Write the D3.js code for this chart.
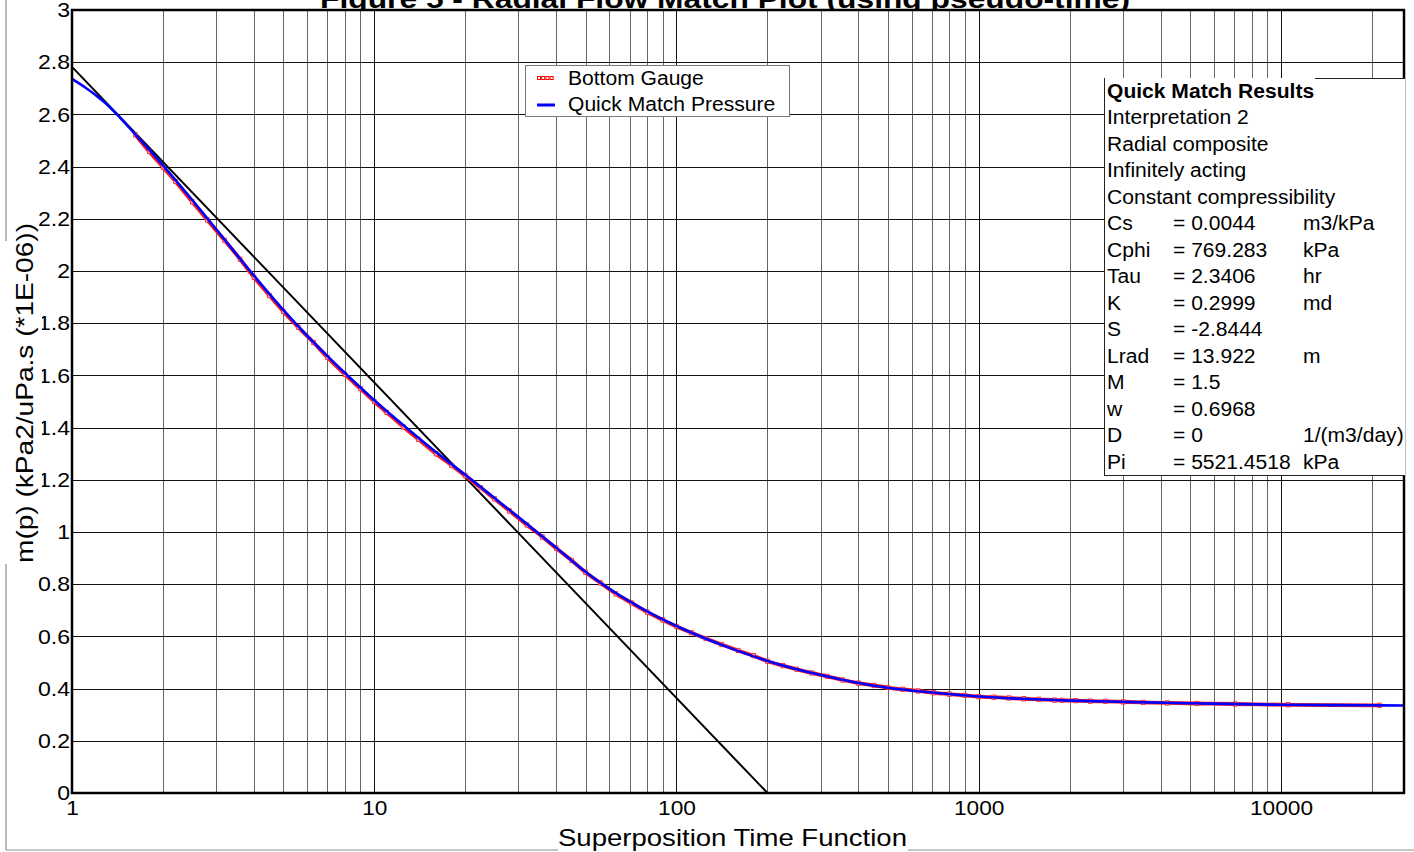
<!DOCTYPE html>
<html><head><meta charset="utf-8">
<script src="https://cdn.jsdelivr.net/npm/d3@7"></script>
<style>
body{margin:0;background:#fff;}
svg{display:block;}
text{font-family:"Liberation Sans",Arial,Helvetica,sans-serif;fill:#000;}
</style>
</head><body>
<svg id="chart" width="1414" height="852"></svg>
<script>
// ---------------- data ----------------
const titleText = "Figure 5 - Radial Flow Match Plot (using pseudo-time)";
const xTitle = "Superposition Time Function";
const yTitle = "m(p) (kPa2/uPa.s (*1E-06))";

const xTicks = [1, 10, 100, 1000, 10000];
const xTickLabels = ["1", "10", "100", "1000", "10000"];
const yTicks = [0, 0.2, 0.4, 0.6, 0.8, 1, 1.2, 1.4, 1.6, 1.8, 2, 2.2, 2.4, 2.6, 2.8, 3];
const yTickLabels = ["0","0.2","0.4","0.6","0.8","1","1.2","1.4","1.6","1.8","2","2.2","2.4","2.6","2.8","3"];

// Quick Match Pressure (blue line)
const matchX = [1, 1.1, 1.2, 1.3, 1.4, 1.6, 2, 2.5, 3, 4, 5, 6, 7, 8, 10, 12, 15, 20, 25, 30, 40, 50, 60, 70, 80, 100, 150, 200, 300, 500, 700, 1000, 2000, 3000, 5000, 10000, 20000, 25500];
const matchY = [2.736, 2.705, 2.673, 2.640, 2.603, 2.530, 2.405, 2.272, 2.160, 1.982, 1.851, 1.752, 1.674, 1.609, 1.505, 1.426, 1.332, 1.219, 1.130, 1.057, 0.940, 0.848, 0.782, 0.734, 0.696, 0.640, 0.556, 0.506, 0.452, 0.403, 0.385, 0.370, 0.354, 0.349, 0.344, 0.338, 0.336, 0.335];

// Bottom Gauge (red markers)
const gaugeX = [1.62, 1.8, 2.0, 2.2, 2.5, 2.8, 3.2, 3.6, 4.0, 4.5, 5.0, 5.6, 6.3, 7.0, 8.0, 9.0, 10, 11, 12.5, 14, 16, 18, 20, 22.5, 25, 28, 32, 36, 40, 45, 50, 56, 63, 71, 80, 90, 100, 112, 125, 141, 160, 180, 200, 225, 250, 280, 315, 355, 400, 450, 500, 560, 630, 710, 800, 900, 1000, 1120, 1260, 1410, 1580, 1780, 1890, 2094, 2337, 2625, 3010, 3500, 4208, 5284, 7050, 10570, 21200];
const gaugeY = [2.522, 2.458, 2.398, 2.343, 2.265, 2.196, 2.117, 2.045, 1.976, 1.906, 1.845, 1.785, 1.726, 1.669, 1.604, 1.549, 1.500, 1.458, 1.402, 1.355, 1.300, 1.256, 1.216, 1.170, 1.127, 1.081, 1.027, 0.981, 0.938, 0.891, 0.846, 0.805, 0.763, 0.728, 0.693, 0.663, 0.638, 0.614, 0.592, 0.569, 0.546, 0.526, 0.505, 0.488, 0.474, 0.460, 0.447, 0.433, 0.421, 0.412, 0.404, 0.397, 0.391, 0.384, 0.379, 0.374, 0.369, 0.367, 0.364, 0.361, 0.359, 0.356, 0.355, 0.354, 0.352, 0.351, 0.349, 0.347, 0.345, 0.343, 0.341, 0.338, 0.336];

// semilog straight line (black)
const slopeX = [1, 200];
const slopeY = [2.782, 0];

const legendLabels = ["Bottom Gauge", "Quick Match Pressure"];
const resultsTitle = "Quick Match Results";
const resultsLines = ["Interpretation 2", "Radial composite", "Infinitely acting", "Constant compressibility"];
const paramNames  = ["Cs", "Cphi", "Tau", "K", "S", "Lrad", "M", "w", "D", "Pi"];
const paramValues = ["= 0.0044", "= 769.283", "= 2.3406", "= 0.2999", "= -2.8444", "= 13.922", "= 1.5", "= 0.6968", "= 0", "= 5521.4518"];
const paramUnits  = ["m3/kPa", "kPa", "hr", "md", "", "m", "", "", "1/(m3/day)", "kPa"];

// ---------------- layout ----------------
const svg = d3.select("#chart");
const P = {left: 72, right: 1404, top: 10, bottom: 793};
const x = d3.scaleLog().domain([1, 25530]).range([P.left, P.right]);
const y = d3.scaleLinear().domain([0, 3]).range([P.bottom, P.top]);

function stretch(sel, f) {
  sel.each(function () {
    const l = this.getComputedTextLength();
    if (l > 0) d3.select(this).attr("textLength", l * f).attr("lengthAdjust", "spacingAndGlyphs");
  });
}

// outer frame
svg.append("line").attr("x1", 6).attr("x2", 6).attr("y1", 0).attr("y2", 850).attr("stroke", "#8c8c8c").attr("stroke-width", 1.2);
svg.append("line").attr("x1", 6).attr("x2", 1414).attr("y1", 850).attr("y2", 850).attr("stroke", "#8c8c8c").attr("stroke-width", 1.2);

// title (partly above the top edge, as in the reference)
svg.append("text").attr("x", 725).attr("y", 8).attr("text-anchor", "middle")
  .attr("font-size", 26).attr("font-weight", "bold").text(titleText)
  .attr("textLength", 810).attr("lengthAdjust", "spacingAndGlyphs");

// plot background
svg.append("rect").attr("x", P.left).attr("y", P.top).attr("width", P.right - P.left).attr("height", P.bottom - P.top).attr("fill", "#fff");

// grid
const grid = svg.append("g");
const gridX = [];
for (let e = 0; e <= 4; e++) for (let k = 1; k <= 9; k++) { const v = k * Math.pow(10, e); if (v > 1 && v < 25530) gridX.push({v, major: k === 1}); }
grid.selectAll("line.gx").data(gridX).join("line")
  .attr("x1", d => Math.round(x(d.v)) + 0.5).attr("x2", d => Math.round(x(d.v)) + 0.5)
  .attr("y1", P.top).attr("y2", P.bottom)
  .attr("stroke", d => d.major ? "#111" : "#666").attr("stroke-width", 1);
grid.selectAll("line.gy").data(yTicks.filter(v => v > 0 && v < 3)).join("line")
  .attr("x1", P.left).attr("x2", P.right)
  .attr("y1", d => Math.round(y(d)) + 0.5).attr("y2", d => Math.round(y(d)) + 0.5)
  .attr("stroke", "#111").attr("stroke-width", 1);

// clip
svg.append("clipPath").attr("id", "clip").append("rect")
  .attr("x", P.left).attr("y", P.top).attr("width", P.right - P.left).attr("height", P.bottom - P.top);
const plot = svg.append("g").attr("clip-path", "url(#clip)");

// black semilog line
plot.append("path").datum(slopeX.map((v, i) => [v, slopeY[i]]))
  .attr("d", d3.line().x(d => x(d[0])).y(d => y(d[1])))
  .attr("fill", "none").attr("stroke", "#000").attr("stroke-width", 2);

// gauge data
const gauge = gaugeX.map((v, i) => [v, gaugeY[i]]);
plot.append("path").datum(gauge)
  .attr("d", d3.line().x(d => x(d[0])).y(d => y(d[1])).curve(d3.curveMonotoneX))
  .attr("fill", "none").attr("stroke", "#ff1a1a").attr("stroke-width", 3.8);
plot.selectAll("rect.g").data(gauge).join("rect")
  .attr("x", d => x(d[0]) - 1.8).attr("y", d => y(d[1]) - 2.2).attr("width", 3.6).attr("height", 4.4)
  .attr("fill", "#ff9a9a").attr("stroke", "#ff2020").attr("stroke-width", 0.8);

// match line
plot.append("path").datum(matchX.map((v, i) => [v, matchY[i]]))
  .attr("d", d3.line().x(d => x(d[0])).y(d => y(d[1])).curve(d3.curveMonotoneX))
  .attr("fill", "none").attr("stroke", "#0000ff").attr("stroke-width", 2.6);

// plot border
svg.append("rect").attr("x", P.left).attr("y", P.top).attr("width", P.right - P.left).attr("height", P.bottom - P.top)
  .attr("fill", "none").attr("stroke", "#000").attr("stroke-width", 2.5);

// axes
const xAxis = svg.append("g").attr("transform", `translate(0,${P.bottom})`)
  .call(d3.axisBottom(x).tickValues(xTicks).tickFormat((d, i) => xTickLabels[i]).tickSize(0).tickPadding(7));
xAxis.select(".domain").remove();
xAxis.selectAll("text").attr("font-size", 21).attr("fill", "#000").attr("font-family", null).attr("dy", "0.71em");
stretch(xAxis.selectAll("text"), 1.08);

const yAxis = svg.append("g").attr("transform", `translate(${P.left},0)`)
  .call(d3.axisLeft(y).tickValues(yTicks).tickFormat((d, i) => yTickLabels[i]).tickSize(0).tickPadding(2));
yAxis.select(".domain").remove();
yAxis.selectAll("text").attr("font-size", 21).attr("fill", "#000").attr("font-family", null);
stretch(yAxis.selectAll("text"), 1.1);

// axis titles with white background
svg.append("rect").attr("x", 0).attr("y", 241).attr("width", 42).attr("height", 323).attr("fill", "#fff");
svg.append("text").attr("transform", "translate(33,393) rotate(-90)").attr("text-anchor", "middle")
  .attr("font-size", 24).text(yTitle).attr("textLength", 340).attr("lengthAdjust", "spacingAndGlyphs");
svg.append("rect").attr("x", 558).attr("y", 818).attr("width", 350).attr("height", 34).attr("fill", "#fff");
svg.append("text").attr("x", 732.5).attr("y", 846).attr("text-anchor", "middle")
  .attr("font-size", 24).text(xTitle).attr("textLength", 349).attr("lengthAdjust", "spacingAndGlyphs");

// legend
const lg = svg.append("g");
lg.append("rect").attr("x", 525.5).attr("y", 65.5).attr("width", 264).attr("height", 51)
  .attr("fill", "#fff").attr("stroke", "#7a7a7a").attr("stroke-width", 1);
for (let k = 0; k < 4; k++) {
  lg.append("rect").attr("x", 537.5 + k * 4.2).attr("y", 76.5).attr("width", 3).attr("height", 3)
    .attr("fill", "#fff").attr("stroke", "#ff0000").attr("stroke-width", 1);
}
lg.append("line").attr("x1", 537).attr("x2", 555).attr("y1", 105).attr("y2", 105).attr("stroke", "#0000ff").attr("stroke-width", 3);
lg.selectAll("text").data(legendLabels).join("text")
  .attr("x", 568).attr("y", (d, i) => 84.5 + i * 26).attr("font-size", 19.5).text(d => d);
stretch(lg.selectAll("text"), 1.08);

// results box
const rb = svg.append("g");
rb.append("rect").attr("x", 1104).attr("y", 78).attr("width", 301).attr("height", 397).attr("fill", "#fff");
rb.append("line").attr("x1", 1104.5).attr("x2", 1104.5).attr("y1", 78).attr("y2", 475.5).attr("stroke", "#222").attr("stroke-width", 1);
rb.append("line").attr("x1", 1104).attr("x2", 1405).attr("y1", 475.5).attr("y2", 475.5).attr("stroke", "#222").attr("stroke-width", 1);
rb.append("line").attr("x1", 1315).attr("x2", 1405).attr("y1", 78.5).attr("y2", 78.5).attr("stroke", "#222").attr("stroke-width", 1);
const base0 = 97.5, step = 26.5;
rb.append("text").attr("x", 1107).attr("y", base0).attr("font-size", 19.5).attr("font-weight", "bold").text(resultsTitle);
resultsLines.forEach((t, i) => rb.append("text").attr("x", 1107).attr("y", base0 + (i + 1) * step).attr("font-size", 19.5).text(t));
paramNames.forEach((t, i) => {
  const yy = base0 + (i + 1 + resultsLines.length) * step;
  rb.append("text").attr("x", 1107).attr("y", yy).attr("font-size", 19.5).text(t);
  rb.append("text").attr("x", 1173).attr("y", yy).attr("font-size", 19.5).text(paramValues[i]);
  if (paramUnits[i]) rb.append("text").attr("x", 1303).attr("y", yy).attr("font-size", 19.5).text(paramUnits[i]);
});
stretch(rb.selectAll("text"), 1.08);
</script>
</body></html>
